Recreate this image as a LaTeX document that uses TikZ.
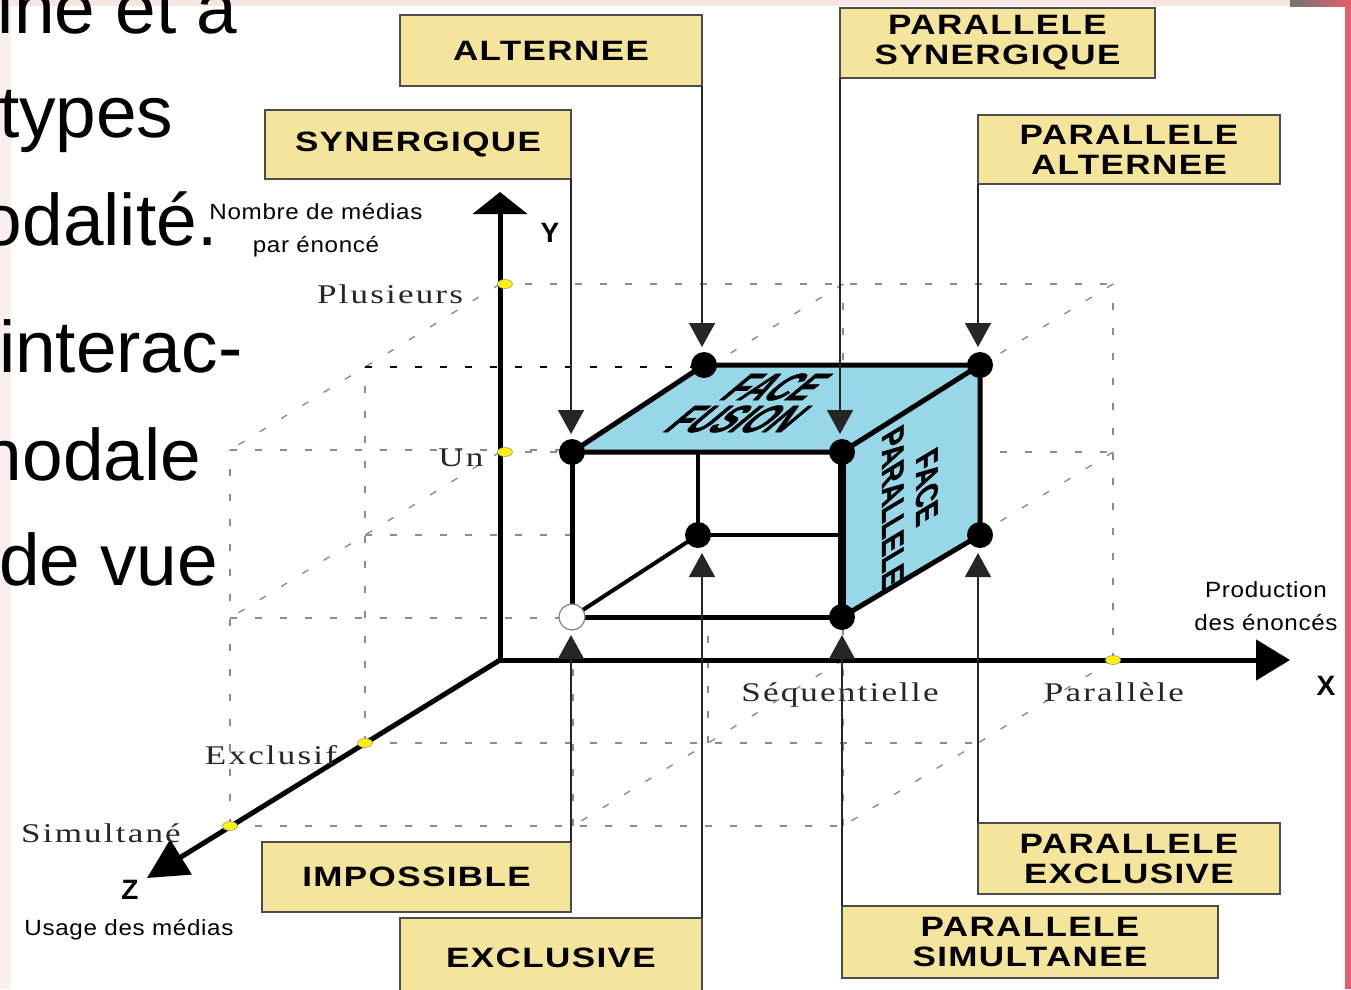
\documentclass[tikz,border=0pt]{standalone}
\usepackage{fontspec}
\usepackage{tikz}
\usetikzlibrary{arrows.meta, positioning, shapes.geometric}

\newfontfamily\slidefont{Liberation Sans}
\newfontfamily\boxfont[FakeStretch=1.25,LetterSpace=5]{Liberation Sans Bold}
\newfontfamily\serfont[FakeStretch=1.3,LetterSpace=8]{Liberation Serif}
\newfontfamily\axfont[FakeStretch=1.1,LetterSpace=3]{Liberation Sans}
\newfontfamily\facefont[FakeStretch=0.85,FakeBold=1.5]{Liberation Sans Bold}

\definecolor{boxyellow}{RGB}{245,228,156}
\definecolor{faceblue}{RGB}{151,215,232}
\definecolor{tickyellow}{RGB}{255,242,0}
\definecolor{slidepink}{RGB}{248,229,227}
\definecolor{slidered}{RGB}{226,96,110}

\begin{document}
\begin{tikzpicture}[x=1pt,y=-1pt,>={Triangle[length=24pt,width=26pt]},line join=miter]
\tikzstyle{every node}=[inner sep=0pt,outer sep=0pt]
\tikzset{
  slide/.style={anchor=base west,font=\slidefont\fontsize{73}{80}\selectfont},
  callout/.style={anchor=north west,draw=black!70,line width=1.5pt,fill=boxyellow,
                  align=center,font=\boxfont\fontsize{28}{30}\selectfont},
  link/.style={->,draw=black!85,line width=1.4pt,shorten >=5pt},
  grid3d/.style={draw=black!45,line width=1.4pt,dash pattern=on 7pt off 18pt},
  axis/.style={line width=5pt,draw=black},
  edge3d/.style={line width=5pt,line cap=round},
  vtx/.style={circle,fill=black,minimum size=26pt},
  tck/.style={ellipse,fill=tickyellow,draw=black!40,line width=0.6pt,
              minimum width=15pt,minimum height=9pt},
  tlabel/.style={font=\serfont\fontsize{27}{30}\selectfont,text=black!85},
  albl/.style={font=\axfont\fontsize{22}{33}\selectfont,align=center},
  aname/.style={font=\slidefont\bfseries\fontsize{28}{30}\selectfont}
}

\useasboundingbox (0,0) rectangle (1351,989);
\clip (0,0) rectangle (1351,989);

% slide behind the figure
\fill[slidepink!60] (0,0) rectangle (11,989);
\fill[slidepink] (0,0) rectangle (1351,6);
\shade[left color=black!55,right color=slidered] (1290,0) rectangle (1351,6);
\fill[slidered] (1345,0) rectangle (1351,989);

\node[slide] (s1) at (-2,33)  {ine et à};
\node[slide] (s2) at (-1,137) {types};
\node[slide] (s3) at (-18,245) {odalité.};
\node[slide] (s4) at (-1,372) {interac-};
\node[slide] (s5) at (-18,480) {nodale};
\node[slide] (s6) at (-1,585) {de vue};

% lattice points g<x><y><z>
\foreach \i/\gx in {0/500,1/843,2/1113}
  \foreach \j/\gy in {0/660,1/452,2/284}
    \foreach \k in {0,1,2}
      \coordinate (g\i\j\k) at ({\gx-135*\k},{\gy+83*\k});

\foreach \a in {0,1,2}
  \foreach \b in {0,1,2}{
    \ifnum\a\b>0
      \draw[grid3d] (g0\a\b) -- (g2\a\b);
      \draw[grid3d] (g\a0\b) -- (g\a2\b);
      \draw[grid3d] (g\a\b0) -- (g\a\b2);
    \fi
  }
\draw[grid3d,draw=black] (g021) -- (g221);

% axes
\coordinate (O) at (g000);
\coordinate (Ytip) at (500,192);
\coordinate (Xtip) at (1290,660);
\coordinate (Ztip) at (147,878);
\draw[axis,{Triangle[length=22pt,width=54pt]}-{Triangle[length=34pt,width=40pt]}] (Ytip) -- (O) -- (Xtip);
\draw[axis,-{Triangle[length=40pt,width=40pt]}] (O) -- (Ztip);

% cube
\coordinate (A1) at (704,365);
\coordinate (B1) at (980,365);
\coordinate (C1) at (980,535);
\coordinate (D1) at (698,535);
\coordinate (A2) at (572,452);
\coordinate (B2) at (842,452);
\coordinate (C2) at (842,617);
\coordinate (D2) at (572,617);
\coordinate (E) at (D1 |- A2);
\coordinate (F) at (C2 |- D1);

\fill[white] (A2) -- (B2) -- (C2) -- (D2) -- cycle;
\fill[faceblue] (A2) -- (A1) -- (B1) -- (B2) -- cycle;
\fill[faceblue] (B2) -- (B1) -- (C1) -- (C2) -- cycle;

\node[font=\facefont\fontsize{38}{32}\selectfont,xslant=1.2,align=center] (fusion) at (757,403) {FACE\\FUSION};
\node[font=\facefont\fontsize{31}{34}\selectfont,rotate=-90,xslant=-0.6,align=center] (para) at (910,497) {FACE\\PARALLELE};

\draw[edge3d] (A2) -- (A1) -- (B1) -- (B2) -- cycle;
\draw[edge3d] (A2) -- (D2) -- (C2);
\draw[edge3d] (B1) -- (C1) -- (C2);
\draw[line width=8pt] (B2) -- (C2);
\draw[line width=4pt] (E) -- (D1) -- (F);
\draw[line width=4pt] (D2) -- (D1);

\node[vtx] (a1) at (A1) {};
\node[vtx] (b1) at (B1) {};
\node[vtx] (c1) at (C1) {};
\node[vtx] (d1) at (D1) {};
\node[vtx] (a2) at (A2) {};
\node[vtx] (b2) at (B2) {};
\node[vtx] (c2) at (C2) {};
\node[vtx,fill=white,draw=black!50,line width=1.2pt] (d2) at (D2) {};

% ticks and their labels
\node[tck,xshift=5pt] (tPlus) at (g020) {};
\node[tck,xshift=5pt] (tUn) at (g010) {};
\node[tck] (tPar) at (g200) {};
\node[tck] (tExc) at (g001) {};
\node[tck] (tSim) at (g002) {};

\node[tlabel] (lPlus) at (390,294) {Plusieurs};
\node[tlabel] (lUn) at (461,458) {Un};
\node[tlabel] (lSeq) at (840,695) {Séquentielle};
\node[tlabel] (lPar) at (1114,692) {Parallèle};
\node[tlabel] (lExc) at (271,755) {Exclusif};
\node[tlabel] (lSim) at (101,833) {Simultané};

\node[albl] (ny) at (316,230) {Nombre de médias\\par énoncé};
\node[albl] (nx) at (1266,606) {Production\\des énoncés};
\node[albl] (nz) at (129,930) {Usage des médias};
\node[aname] (Y) at (550,233) {Y};
\node[aname] (X) at (1326,686) {X};
\node[aname] (Z) at (130,890) {Z};

% boxes
\node[callout,minimum width=302pt,minimum height=71pt] (alt) at (400,15) {ALTERNEE};
\node[callout,minimum width=306pt,minimum height=69pt] (syn) at (265,110) {SYNERGIQUE};
\node[callout,minimum width=315pt,minimum height=70pt] (psyn) at (840,8) {PARALLELE\\SYNERGIQUE};
\node[callout,minimum width=302pt,minimum height=69pt] (palt) at (978,115) {PARALLELE\\ALTERNEE};
\node[callout,minimum width=309pt,minimum height=70pt] (imp) at (262,842) {IMPOSSIBLE};
\node[callout,minimum width=302pt,minimum height=80pt] (exc) at (400,918) {EXCLUSIVE};
\node[callout,minimum width=376pt,minimum height=72pt] (psim) at (842,906) {PARALLELE\\SIMULTANEE};
\node[callout,minimum width=302pt,minimum height=71pt] (pexc) at (978,823) {PARALLELE\\EXCLUSIVE};

\draw[link] (alt.south east) -- (alt.south east |- a1.north);
\draw[link] (syn.south east) -- (syn.south east |- a2.north);
\draw[link] (psyn.south west) -- (psyn.south west |- b2.north);
\draw[link] (palt.south west) -- (palt.south west |- b1.north);
\draw[link] (imp.north east) -- (imp.north east |- d2.south);
\draw[link] (exc.north east) -- (exc.north east |- d1.south);
\draw[link] (psim.north west) -- (psim.north west |- c2.south);
\draw[link] (pexc.north west) -- (pexc.north west |- c1.south);

\end{tikzpicture}
\end{document}
